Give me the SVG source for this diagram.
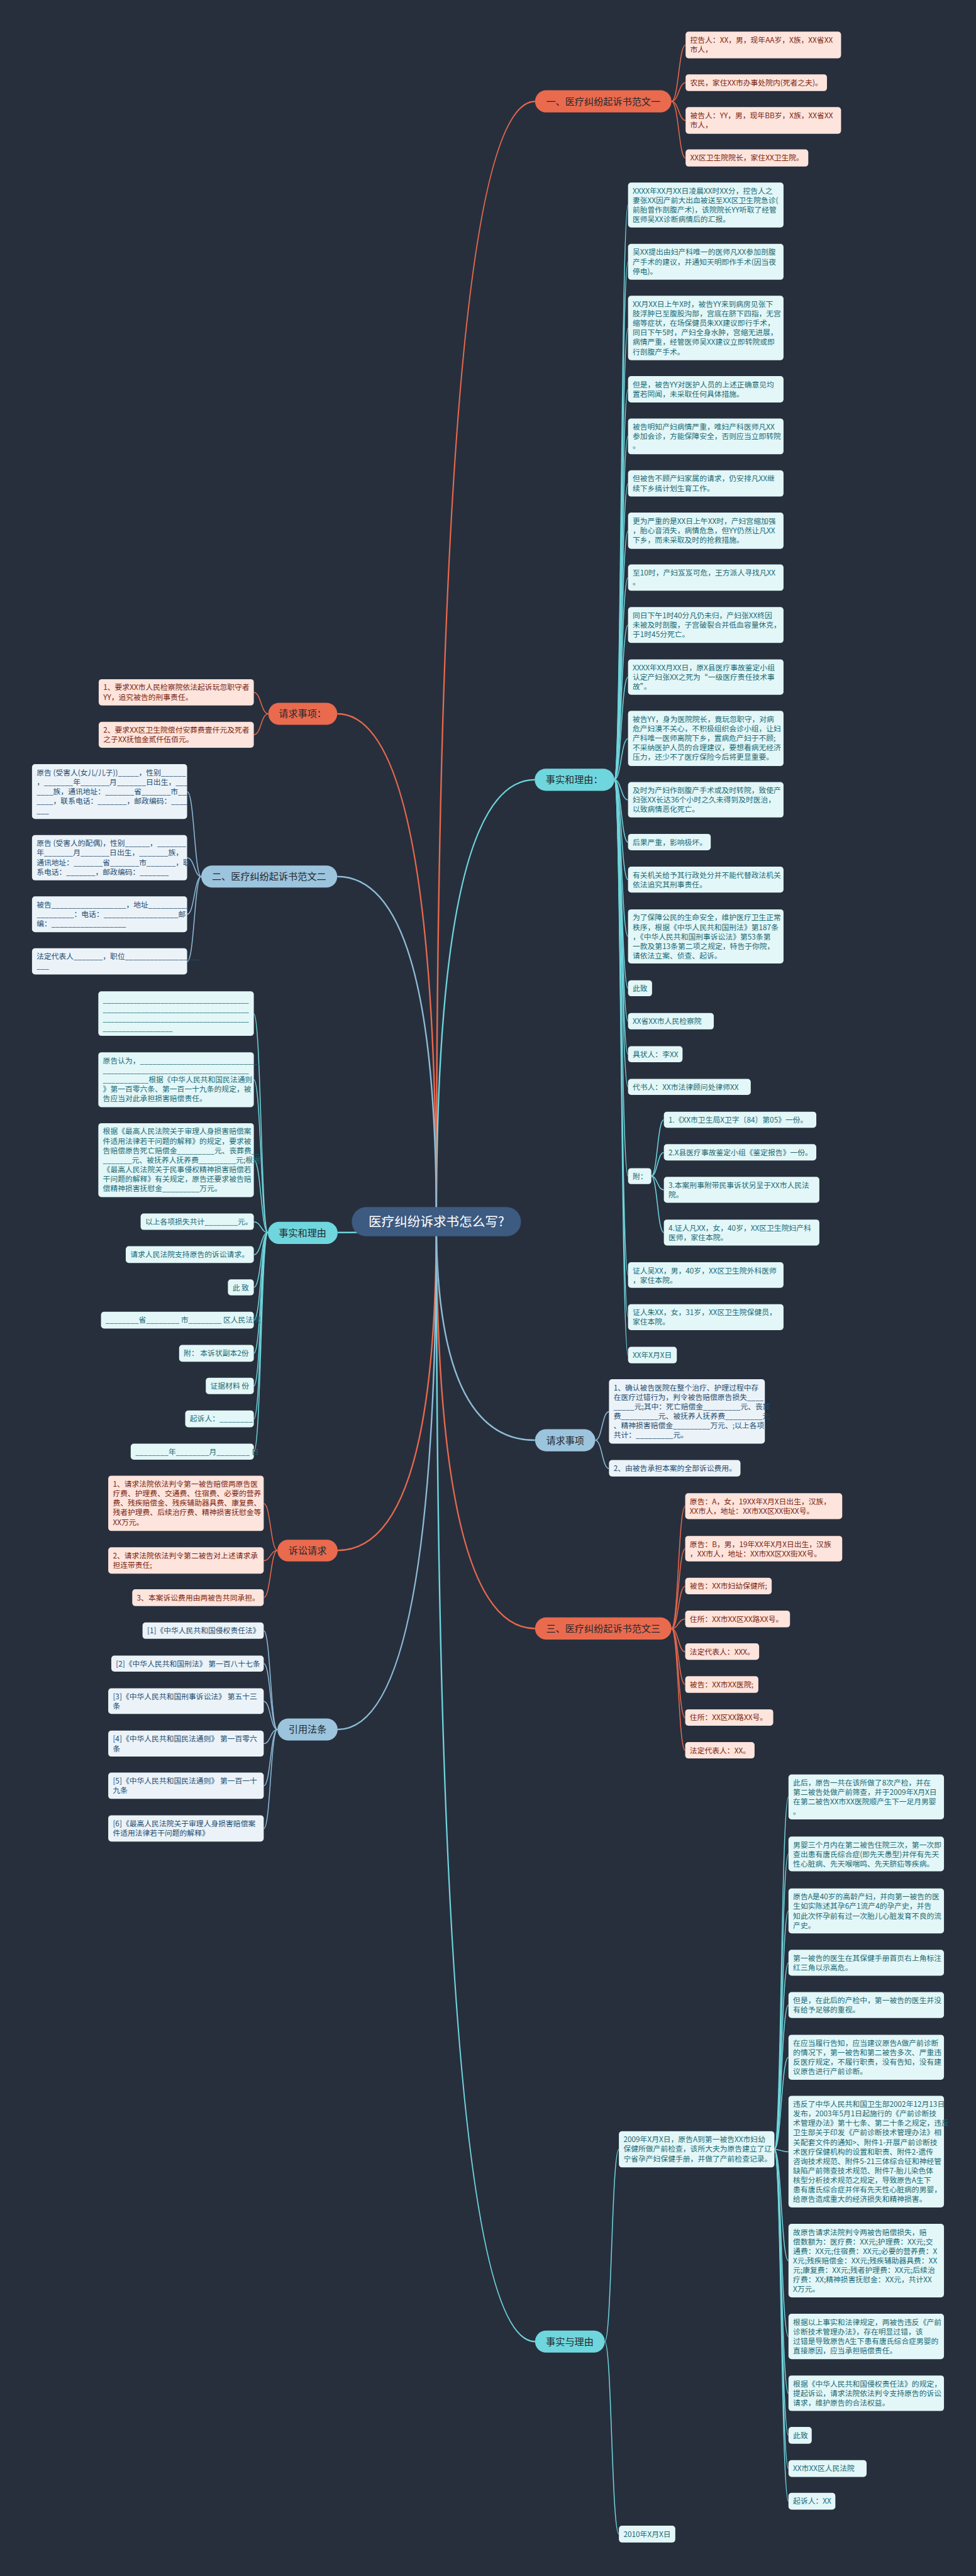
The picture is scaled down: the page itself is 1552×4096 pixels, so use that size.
<svg xmlns="http://www.w3.org/2000/svg" width="1552" height="4096" viewBox="0 0 1552 4096">
<style>
text{font-family:"Noto Sans CJK SC","Noto Sans",sans-serif;font-size:19.5px}
.lp{fill:#fde4dc}.lc{fill:#e3f7f8}.lb{fill:#ebf3f9}
.tp{fill:#7a2411}.tc{fill:#1b6a74}.tb{fill:#1f4d6f}
.cn path{fill:none;stroke-width:2.5}
.cn .main{stroke-width:4}
.cc{stroke:#e8694d}.cy{stroke:#6fd5dc}.cb{stroke:#8fbcd8}
.bc{fill:#ea6a4e}.by{fill:#6fd6dd}.bb{fill:#9cc4dd}
.bt{font-size:25px;fill:#24282e;text-anchor:middle}
.rt{font-size:34px;fill:#ffffff;text-anchor:middle}
</style>
<rect width="1552" height="4096" fill="#272f3d"/>
<g transform="scale(0.606)">
<g id="connectors" class="cn">
<path class="cc main" d="M1145,3205 Q1145,266 1404,266"/>
<path class="cy main" d="M1145,3205 Q1145,2046 1403,2046"/>
<path class="cb main" d="M1145,3205 Q1145,3779 1404,3779"/>
<path class="cc main" d="M1145,3205 Q1145,4273 1404,4273"/>
<path class="cy main" d="M1145,3205 Q1145,6144 1404,6144"/>
<path class="cc main" d="M1145,3205 Q1145,1873 885,1873"/>
<path class="cb main" d="M1145,3205 Q1145,2300 885,2300"/>
<path class="cy main" d="M1145,3205 Q1145,3234 886,3234"/>
<path class="cc main" d="M1145,3205 Q1145,4068 886,4068"/>
<path class="cb main" d="M1145,3205 Q1145,4538 886,4538"/>
<path class="cc" d="M1762,266 C1781,266 1781,118 1799,118"/>
<path class="cc" d="M1762,266 C1781,266 1781,217 1799,217"/>
<path class="cc" d="M1762,266 C1781,266 1781,316 1799,316"/>
<path class="cc" d="M1762,266 C1781,266 1781,415 1799,415"/>
<path class="cy" d="M1612,2046 C1630,2046 1630,538 1648,538"/>
<path class="cy" d="M1612,2046 C1630,2046 1630,687 1648,687"/>
<path class="cy" d="M1612,2046 C1630,2046 1630,861 1648,861"/>
<path class="cy" d="M1612,2046 C1630,2046 1630,1022 1648,1022"/>
<path class="cy" d="M1612,2046 C1630,2046 1630,1145 1648,1145"/>
<path class="cy" d="M1612,2046 C1630,2046 1630,1269 1648,1269"/>
<path class="cy" d="M1612,2046 C1630,2046 1630,1393 1648,1393"/>
<path class="cy" d="M1612,2046 C1630,2046 1630,1516 1648,1516"/>
<path class="cy" d="M1612,2046 C1630,2046 1630,1640 1648,1640"/>
<path class="cy" d="M1612,2046 C1630,2046 1630,1777 1648,1777"/>
<path class="cy" d="M1612,2046 C1630,2046 1630,1938 1648,1938"/>
<path class="cy" d="M1612,2046 C1630,2046 1630,2099 1648,2099"/>
<path class="cy" d="M1612,2046 C1630,2046 1630,2210 1648,2210"/>
<path class="cy" d="M1612,2046 C1630,2046 1630,2308 1648,2308"/>
<path class="cy" d="M1612,2046 C1630,2046 1630,2457 1648,2457"/>
<path class="cy" d="M1612,2046 C1630,2046 1630,2593 1648,2593"/>
<path class="cy" d="M1612,2046 C1630,2046 1630,2680 1648,2680"/>
<path class="cy" d="M1612,2046 C1630,2046 1630,2766 1648,2766"/>
<path class="cy" d="M1612,2046 C1630,2046 1630,2852 1648,2852"/>
<path class="cy" d="M1612,2046 C1630,2046 1630,3086 1648,3086"/>
<path class="cy" d="M1612,2046 C1630,2046 1630,3346 1648,3346"/>
<path class="cy" d="M1612,2046 C1630,2046 1630,3456 1648,3456"/>
<path class="cy" d="M1612,2046 C1630,2046 1630,3556 1648,3556"/>
<path class="cy" d="M1709,3086 C1725,3086 1725,2938 1742,2938"/>
<path class="cy" d="M1709,3086 C1725,3086 1725,3024 1742,3024"/>
<path class="cy" d="M1709,3086 C1725,3086 1725,3122 1742,3122"/>
<path class="cy" d="M1709,3086 C1725,3086 1725,3234 1742,3234"/>
<path class="cb" d="M1562,3779 C1580,3779 1580,3704 1598,3704"/>
<path class="cb" d="M1562,3779 C1580,3779 1580,3853 1598,3853"/>
<path class="cc" d="M1762,4273 C1780,4273 1780,3952 1798,3952"/>
<path class="cc" d="M1762,4273 C1780,4273 1780,4064 1798,4064"/>
<path class="cc" d="M1762,4273 C1780,4273 1780,4162 1798,4162"/>
<path class="cc" d="M1762,4273 C1780,4273 1780,4248 1798,4248"/>
<path class="cc" d="M1762,4273 C1780,4273 1780,4334 1798,4334"/>
<path class="cc" d="M1762,4273 C1780,4273 1780,4420 1798,4420"/>
<path class="cc" d="M1762,4273 C1780,4273 1780,4507 1798,4507"/>
<path class="cc" d="M1762,4273 C1780,4273 1780,4593 1798,4593"/>
<path class="cy" d="M1587,6144 C1605,6144 1605,5640 1624,5640"/>
<path class="cy" d="M1587,6144 C1605,6144 1605,6649 1624,6649"/>
<path class="cy" d="M2032,5640 C2050,5640 2050,4715 2069,4715"/>
<path class="cy" d="M2032,5640 C2050,5640 2050,4865 2069,4865"/>
<path class="cy" d="M2032,5640 C2050,5640 2050,5014 2069,5014"/>
<path class="cy" d="M2032,5640 C2050,5640 2050,5150 2069,5150"/>
<path class="cy" d="M2032,5640 C2050,5640 2050,5261 2069,5261"/>
<path class="cy" d="M2032,5640 C2050,5640 2050,5398 2069,5398"/>
<path class="cy" d="M2032,5640 C2050,5640 2050,5646 2069,5646"/>
<path class="cy" d="M2032,5640 C2050,5640 2050,5932 2069,5932"/>
<path class="cy" d="M2032,5640 C2050,5640 2050,6131 2069,6131"/>
<path class="cy" d="M2032,5640 C2050,5640 2050,6280 2069,6280"/>
<path class="cy" d="M2032,5640 C2050,5640 2050,6390 2069,6390"/>
<path class="cy" d="M2032,5640 C2050,5640 2050,6477 2069,6477"/>
<path class="cy" d="M2032,5640 C2050,5640 2050,6563 2069,6563"/>
<path class="cc" d="M704,1873 C685,1873 685,1817 666,1817"/>
<path class="cc" d="M704,1873 C685,1873 685,1928 666,1928"/>
<path class="cb" d="M528,2300 C510,2300 510,2077 491,2077"/>
<path class="cb" d="M528,2300 C510,2300 510,2251 491,2251"/>
<path class="cb" d="M528,2300 C510,2300 510,2399 491,2399"/>
<path class="cb" d="M528,2300 C510,2300 510,2523 491,2523"/>
<path class="cy" d="M703,3234 C685,3234 685,2660 666,2660"/>
<path class="cy" d="M703,3234 C685,3234 685,2833 666,2833"/>
<path class="cy" d="M703,3234 C685,3234 685,3044 666,3044"/>
<path class="cy" d="M703,3234 C685,3234 685,3206 666,3206"/>
<path class="cy" d="M703,3234 C685,3234 685,3292 666,3292"/>
<path class="cy" d="M703,3234 C685,3234 685,3378 666,3378"/>
<path class="cy" d="M703,3234 C685,3234 685,3464 666,3464"/>
<path class="cy" d="M703,3234 C685,3234 685,3551 666,3551"/>
<path class="cy" d="M703,3234 C685,3234 685,3637 666,3637"/>
<path class="cy" d="M703,3234 C685,3234 685,3723 666,3723"/>
<path class="cy" d="M703,3234 C685,3234 685,3809 666,3809"/>
<path class="cc" d="M728,4068 C710,4068 710,3945 692,3945"/>
<path class="cc" d="M728,4068 C710,4068 710,4095 692,4095"/>
<path class="cc" d="M728,4068 C710,4068 710,4192 692,4192"/>
<path class="cb" d="M728,4538 C710,4538 710,4279 692,4279"/>
<path class="cb" d="M728,4538 C710,4538 710,4365 692,4365"/>
<path class="cb" d="M728,4538 C710,4538 710,4464 692,4464"/>
<path class="cb" d="M728,4538 C710,4538 710,4575 692,4575"/>
<path class="cb" d="M728,4538 C710,4538 710,4686 692,4686"/>
<path class="cb" d="M728,4538 C710,4538 710,4798 692,4798"/>
</g>

<g id="root"><rect x="923" y="3167" width="444" height="77" rx="38" fill="#3d5a80"/><text class="rt" x="1145" y="3217">医疗纠纷诉求书怎么写?</text></g>

<g id="b1"><rect class="bc" x="1404" y="237" width="358" height="58" rx="29"/><text class="bt" x="1583" y="275">一、医疗纠纷起诉书范文一</text></g>
<g id="b2"><rect class="by" x="1403" y="2017" width="209" height="58" rx="29"/><text class="bt" x="1507" y="2055">事实和理由：</text></g>
<g id="b3"><rect class="bb" x="1404" y="3750" width="158" height="58" rx="29"/><text class="bt" x="1483" y="3788">请求事项</text></g>
<g id="b4"><rect class="bc" x="1404" y="4244" width="358" height="58" rx="29"/><text class="bt" x="1583" y="4282">三、医疗纠纷起诉书范文三</text></g>
<g id="b5"><rect class="by" x="1404" y="6115" width="183" height="58" rx="29"/><text class="bt" x="1495" y="6153">事实与理由</text></g>
<g id="b6"><rect class="bc" x="704" y="1844" width="181" height="58" rx="29"/><text class="bt" x="794" y="1882">请求事项：</text></g>
<g id="b7"><rect class="bb" x="528" y="2271" width="357" height="58" rx="29"/><text class="bt" x="706" y="2309">二、医疗纠纷起诉书范文二</text></g>
<g id="b8"><rect class="by" x="703" y="3206" width="183" height="58" rx="29"/><text class="bt" x="794" y="3244">事实和理由</text></g>
<g id="b9"><rect class="bc" x="728" y="4040" width="158" height="57" rx="28"/><text class="bt" x="807" y="4077">诉讼请求</text></g>
<g id="b10"><rect class="bb" x="728" y="4509" width="158" height="58" rx="29"/><text class="bt" x="807" y="4547">引用法条</text></g>

<g id="p1"><rect class="lp" x="1799" y="83" width="408" height="70" rx="8"/><text class="tp"><tspan x="1811" y="112">控告人：XX，男，现年AA岁，X族，XX省XX</tspan><tspan x="1811" y="137">市人，</tspan></text></g>
<g id="p2"><rect class="lp" x="1799" y="195" width="371" height="44" rx="8"/><text class="tp" x="1811" y="224">农民，家住XX市办事处院内(死者之夫)。</text></g>
<g id="p3"><rect class="lp" x="1799" y="281" width="408" height="70" rx="8"/><text class="tp"><tspan x="1811" y="310">被告人：YY，男，现年BB岁，X族，XX省XX</tspan><tspan x="1811" y="335">市人，</tspan></text></g>
<g id="p4"><rect class="lp" x="1799" y="392" width="322" height="45" rx="8"/><text class="tp" x="1811" y="421">XX区卫生院院长，家住XX卫生院。</text></g>

<g id="l1"><rect class="lc" x="1648" y="479" width="408" height="118" rx="8"/><text class="tc"><tspan x="1660" y="508">XXXX年XX月XX日凌晨XX时XX分，控告人之</tspan><tspan x="1660" y="533">妻张XX因产前大出血被送至XX区卫生院急诊(</tspan><tspan x="1660" y="558">前胎曾作剖腹产术)，该院院长YY听取了经管</tspan><tspan x="1660" y="583">医师吴XX诊断病情后的汇报。</tspan></text></g>
<g id="l2"><rect class="lc" x="1648" y="640" width="408" height="94" rx="8"/><text class="tc"><tspan x="1660" y="669">吴XX提出由妇产科唯一的医师凡XX参加剖腹</tspan><tspan x="1660" y="694">产手术的建议，并通知天明即作手术(因当夜</tspan><tspan x="1660" y="719">停电)。</tspan></text></g>
<g id="l3"><rect class="lc" x="1648" y="776" width="408" height="169" rx="8"/><text class="tc"><tspan x="1660" y="805">XX月XX日上午X时，被告YY来到病房见张下</tspan><tspan x="1660" y="830">肢浮肿已至腹股沟部，宫底在脐下四指，无宫</tspan><tspan x="1660" y="855">缩等症状，在场保健员朱XX建议即行手术，</tspan><tspan x="1660" y="880">同日下午5时，产妇全身水肿，宫缩无进展，</tspan><tspan x="1660" y="905">病情严重，经管医师吴XX建议立即转院或即</tspan><tspan x="1660" y="930">行剖腹产手术。</tspan></text></g>
<g id="l4"><rect class="lc" x="1648" y="987" width="408" height="69" rx="8"/><text class="tc"><tspan x="1660" y="1016">但是，被告YY对医护人员的上述正确意见均</tspan><tspan x="1660" y="1041">置若罔闻，未采取任何具体措施。</tspan></text></g>
<g id="l5"><rect class="lc" x="1648" y="1098" width="408" height="94" rx="8"/><text class="tc"><tspan x="1660" y="1127">被告明知产妇病情严重，唯妇产科医师凡XX</tspan><tspan x="1660" y="1152">参加会诊，方能保障安全，否则应当立即转院</tspan><tspan x="1660" y="1177">。</tspan></text></g>
<g id="l6"><rect class="lc" x="1648" y="1234" width="408" height="69" rx="8"/><text class="tc"><tspan x="1660" y="1263">但被告不顾产妇家属的请求，仍安排凡XX继</tspan><tspan x="1660" y="1288">续下乡搞计划生育工作。</tspan></text></g>
<g id="l7"><rect class="lc" x="1648" y="1345" width="408" height="95" rx="8"/><text class="tc"><tspan x="1660" y="1374">更为严重的是XX日上午XX时，产妇宫缩加强</tspan><tspan x="1660" y="1399">，胎心音消失，病情危急，但YY仍然让凡XX</tspan><tspan x="1660" y="1424">下乡，而未采取及时的抢救措施。</tspan></text></g>
<g id="l8"><rect class="lc" x="1648" y="1481" width="408" height="69" rx="8"/><text class="tc"><tspan x="1660" y="1510">至10时，产妇岌岌可危，王方派人寻找凡XX</tspan><tspan x="1660" y="1535">。</tspan></text></g>
<g id="l9"><rect class="lc" x="1648" y="1593" width="408" height="94" rx="8"/><text class="tc"><tspan x="1660" y="1622">同日下午1时40分凡仍未归，产妇张XX终因</tspan><tspan x="1660" y="1647">未被及时剖腹，子宫破裂合并低血容量休克，</tspan><tspan x="1660" y="1672">于1时45分死亡。</tspan></text></g>
<g id="l10"><rect class="lc" x="1648" y="1730" width="408" height="93" rx="8"/><text class="tc"><tspan x="1660" y="1759">XXXX年XX月XX日，原X县医疗事故鉴定小组</tspan><tspan x="1660" y="1784">认定产妇张XX之死为“一级医疗责任技术事</tspan><tspan x="1660" y="1809">故”。</tspan></text></g>
<g id="l11"><rect class="lc" x="1648" y="1865" width="408" height="145" rx="8"/><text class="tc"><tspan x="1660" y="1894">被告YY，身为医院院长，竟玩忽职守，对病</tspan><tspan x="1660" y="1919">危产妇漠不关心，不积极组织会诊小组，让妇</tspan><tspan x="1660" y="1944">产科唯一医师离院下乡，置病危产妇于不顾;</tspan><tspan x="1660" y="1969">不采纳医护人员的合理建议，要想看病无经济</tspan><tspan x="1660" y="1994">压力，还少不了医疗保险今后将更显重要。</tspan></text></g>
<g id="l12"><rect class="lc" x="1648" y="2052" width="408" height="93" rx="8"/><text class="tc"><tspan x="1660" y="2081">及时为产妇作剖腹产手术或及时转院，致使产</tspan><tspan x="1660" y="2106">妇张XX长达36个小时之久未得到及时医治，</tspan><tspan x="1660" y="2131">以致病情恶化死亡。</tspan></text></g>
<g id="l13"><rect class="lc" x="1648" y="2188" width="217" height="43" rx="8"/><text class="tc" x="1660" y="2217">后果严重，影响极坏。</text></g>
<g id="l14"><rect class="lc" x="1648" y="2274" width="408" height="68" rx="8"/><text class="tc"><tspan x="1660" y="2303">有关机关给予其行政处分并不能代替政法机关</tspan><tspan x="1660" y="2328">依法追究其刑事责任。</tspan></text></g>
<g id="l15"><rect class="lc" x="1648" y="2386" width="408" height="142" rx="8"/><text class="tc"><tspan x="1660" y="2415">为了保障公民的生命安全，维护医疗卫生正常</tspan><tspan x="1660" y="2440">秩序，根据《中华人民共和国刑法》第187条</tspan><tspan x="1660" y="2465">，《中华人民共和国刑事诉讼法》第53条第</tspan><tspan x="1660" y="2490">一款及第13条第二项之规定，特告于你院，</tspan><tspan x="1660" y="2515">请依法立案、侦查、起诉。</tspan></text></g>
<g id="l16"><rect class="lc" x="1648" y="2572" width="63" height="42" rx="8"/><text class="tc" x="1660" y="2601">此致</text></g>
<g id="l17"><rect class="lc" x="1648" y="2658" width="225" height="43" rx="8"/><text class="tc" x="1660" y="2687">XX省XX市人民检察院</text></g>
<g id="l18"><rect class="lc" x="1648" y="2745" width="143" height="42" rx="8"/><text class="tc" x="1660" y="2774">具状人：李XX</text></g>
<g id="l19"><rect class="lc" x="1648" y="2831" width="322" height="42" rx="8"/><text class="tc" x="1660" y="2860">代书人：XX市法律顾问处律师XX</text></g>
<g id="l20"><rect class="lc" x="1648" y="3065" width="61" height="42" rx="8"/><text class="tc" x="1660" y="3094">附：</text></g>
<g id="s1"><rect class="lc" x="1742" y="2917" width="400" height="42" rx="8"/><text class="tc" x="1754" y="2946">1.《XX市卫生局X卫字〔84〕第05》一份。</text></g>
<g id="s2"><rect class="lc" x="1742" y="3002" width="400" height="43" rx="8"/><text class="tc" x="1754" y="3031">2.X县医疗事故鉴定小组《鉴定报告》一份。</text></g>
<g id="s3"><rect class="lc" x="1742" y="3088" width="408" height="68" rx="8"/><text class="tc"><tspan x="1754" y="3117">3.本案刑事附带民事诉状另呈于XX市人民法</tspan><tspan x="1754" y="3142">院。</tspan></text></g>
<g id="s4"><rect class="lc" x="1742" y="3200" width="408" height="68" rx="8"/><text class="tc"><tspan x="1754" y="3229">4.证人凡XX，女，40岁，XX区卫生院妇产科</tspan><tspan x="1754" y="3254">医师，家住本院。</tspan></text></g>
<g id="l21"><rect class="lc" x="1648" y="3312" width="408" height="67" rx="8"/><text class="tc"><tspan x="1660" y="3341">证人吴XX，男，40岁，XX区卫生院外科医师</tspan><tspan x="1660" y="3366">，家住本院。</tspan></text></g>
<g id="l22"><rect class="lc" x="1648" y="3422" width="408" height="68" rx="8"/><text class="tc"><tspan x="1660" y="3451">证人朱XX，女，31岁，XX区卫生院保健员，</tspan><tspan x="1660" y="3476">家住本院。</tspan></text></g>
<g id="l23"><rect class="lc" x="1648" y="3534" width="128" height="43" rx="8"/><text class="tc" x="1660" y="3563">XX年X月X日</text></g>

<g id="r1"><rect class="lb" x="1598" y="3619" width="409" height="169" rx="8"/><text class="tb"><tspan x="1610" y="3648">1、确认被告医院在整个治疗、护理过程中存</tspan><tspan x="1610" y="3673">在医疗过错行为，判令被告赔偿原告损失____</tspan><tspan x="1610" y="3698">_____元;其中：死亡赔偿金_________元、丧葬</tspan><tspan x="1610" y="3723">费_________元、被抚养人抚养费_________元</tspan><tspan x="1610" y="3748">、精神损害赔偿金_________万元、;以上各项</tspan><tspan x="1610" y="3773">共计：_________元。</tspan></text></g>
<g id="r2"><rect class="lb" x="1598" y="3831" width="345" height="43" rx="8"/><text class="tb" x="1610" y="3860">2、由被告承担本案的全部诉讼费用。</text></g>

<g id="t1"><rect class="lp" x="1798" y="3918" width="412" height="68" rx="8"/><text class="tp"><tspan x="1810" y="3947">原告：A，女，19XX年X月X日出生，汉族，</tspan><tspan x="1810" y="3972">XX市人，地址：XX市XX区XX街XX号。</tspan></text></g>
<g id="t2"><rect class="lp" x="1798" y="4030" width="412" height="67" rx="8"/><text class="tp"><tspan x="1810" y="4059">原告：B，男，19年XX年X月X日出生，汉族</tspan><tspan x="1810" y="4084">，XX市人，地址：XX市XX区XX街XX号。</tspan></text></g>
<g id="t3"><rect class="lp" x="1798" y="4140" width="227" height="43" rx="8"/><text class="tp" x="1810" y="4169">被告：XX市妇幼保健所;</text></g>
<g id="t4"><rect class="lp" x="1798" y="4226" width="275" height="44" rx="8"/><text class="tp" x="1810" y="4255">住所：XX市XX区XX路XX号。</text></g>
<g id="t5"><rect class="lp" x="1798" y="4312" width="194" height="43" rx="8"/><text class="tp" x="1810" y="4341">法定代表人：XXX。</text></g>
<g id="t6"><rect class="lp" x="1798" y="4398" width="192" height="44" rx="8"/><text class="tp" x="1810" y="4427">被告：XX市XX医院;</text></g>
<g id="t7"><rect class="lp" x="1798" y="4485" width="231" height="43" rx="8"/><text class="tp" x="1810" y="4514">住所：XX区XX路XX号。</text></g>
<g id="t8"><rect class="lp" x="1798" y="4571" width="182" height="43" rx="8"/><text class="tp" x="1810" y="4600">法定代表人：XX。</text></g>

<g id="m1"><rect class="lc" x="1624" y="5592" width="408" height="95" rx="8"/><text class="tc"><tspan x="1636" y="5621">2009年X月X日，原告A到第一被告XX市妇幼</tspan><tspan x="1636" y="5646">保健所做产前检查，该所大夫为原告建立了辽</tspan><tspan x="1636" y="5671">宁省孕产妇保健手册，并做了产前检查记录。</tspan></text></g>
<g id="m2"><rect class="lc" x="1624" y="6627" width="148" height="44" rx="8"/><text class="tc" x="1636" y="6656">2010年X月X日</text></g>
<g id="u1"><rect class="lc" x="2069" y="4656" width="408" height="118" rx="8"/><text class="tc"><tspan x="2081" y="4685">此后，原告一共在该所做了8次产检，并在</tspan><tspan x="2081" y="4710">第二被告处做产前筛查，并于2009年X月X日</tspan><tspan x="2081" y="4735">在第二被告XX市XX医院顺产生下一足月男婴</tspan><tspan x="2081" y="4760">。</tspan></text></g>
<g id="u2"><rect class="lc" x="2069" y="4819" width="408" height="91" rx="8"/><text class="tc"><tspan x="2081" y="4848">男婴三个月内在第二被告住院三次，第一次即</tspan><tspan x="2081" y="4873">查出患有唐氏综合症(即先天愚型)并伴有先天</tspan><tspan x="2081" y="4898">性心脏病、先天喉喘鸣、先天脐疝等疾病。</tspan></text></g>
<g id="u3"><rect class="lc" x="2069" y="4955" width="408" height="118" rx="8"/><text class="tc"><tspan x="2081" y="4984">原告A是40岁的高龄产妇，并向第一被告的医</tspan><tspan x="2081" y="5009">生如实陈述其孕6产1流产4的孕产史，并告</tspan><tspan x="2081" y="5034">知此次怀孕前有过一次胎儿心脏发育不良的流</tspan><tspan x="2081" y="5059">产史。</tspan></text></g>
<g id="u4"><rect class="lc" x="2069" y="5116" width="408" height="68" rx="8"/><text class="tc"><tspan x="2081" y="5145">第一被告的医生在其保健手册首页右上角标注</tspan><tspan x="2081" y="5170">红三角以示高危。</tspan></text></g>
<g id="u5"><rect class="lc" x="2069" y="5227" width="408" height="68" rx="8"/><text class="tc"><tspan x="2081" y="5256">但是，在此后的产检中，第一被告的医生并没</tspan><tspan x="2081" y="5281">有给予足够的重视。</tspan></text></g>
<g id="u6"><rect class="lc" x="2069" y="5339" width="408" height="118" rx="8"/><text class="tc"><tspan x="2081" y="5368">在应当履行告知，应当建议原告A做产前诊断</tspan><tspan x="2081" y="5393">的情况下，第一被告和第二被告多次、严重违</tspan><tspan x="2081" y="5418">反医疗规定，不履行职责，没有告知，没有建</tspan><tspan x="2081" y="5443">议原告进行产前诊断。</tspan></text></g>
<g id="u7"><rect class="lc" x="2069" y="5499" width="408" height="293" rx="8"/><text class="tc"><tspan x="2081" y="5528">违反了中华人民共和国卫生部2002年12月13日</tspan><tspan x="2081" y="5553">发布，2003年5月1日起施行的《产前诊断技</tspan><tspan x="2081" y="5578">术管理办法》第十七条、第二十条之规定，违反</tspan><tspan x="2081" y="5603">卫生部关于印发《产前诊断技术管理办法》相</tspan><tspan x="2081" y="5628">关配套文件的通知&gt;、附件1-开展产前诊断技</tspan><tspan x="2081" y="5653">术医疗保健机构的设置和职责、附件2-遗传</tspan><tspan x="2081" y="5678">咨询技术规范、附件5-21三体综合征和神经管</tspan><tspan x="2081" y="5703">缺陷产前筛查技术规范、附件7-胎儿染色体</tspan><tspan x="2081" y="5728">核型分析技术规范之规定，导致原告A生下</tspan><tspan x="2081" y="5753">患有唐氏综合症并伴有先天性心脏病的男婴，</tspan><tspan x="2081" y="5778">给原告造成重大的经济损失和精神损害。</tspan></text></g>
<g id="u8"><rect class="lc" x="2069" y="5835" width="408" height="193" rx="8"/><text class="tc"><tspan x="2081" y="5864">故原告请求法院判令两被告赔偿损失，赔</tspan><tspan x="2081" y="5889">偿数额为：医疗费：XX元;护理费：XX元;交</tspan><tspan x="2081" y="5914">通费：XX元;住宿费：XX元;必要的营养费：X</tspan><tspan x="2081" y="5939">X元;残疾赔偿金：XX元;残疾辅助器具费：XX</tspan><tspan x="2081" y="5964">元;康复费：XX元;残者护理费：XX元;后续治</tspan><tspan x="2081" y="5989">疗费：XX;精神损害抚慰金：XX元，共计XX</tspan><tspan x="2081" y="6014">X万元。</tspan></text></g>
<g id="u9"><rect class="lc" x="2069" y="6071" width="408" height="119" rx="8"/><text class="tc"><tspan x="2081" y="6100">根据以上事实和法律规定，两被告违反《产前</tspan><tspan x="2081" y="6125">诊断技术管理办法》，存在明显过错，该</tspan><tspan x="2081" y="6150">过错是导致原告A生下患有唐氏综合症男婴的</tspan><tspan x="2081" y="6175">直接原因，应当承担赔偿责任。</tspan></text></g>
<g id="u10"><rect class="lc" x="2069" y="6233" width="408" height="93" rx="8"/><text class="tc"><tspan x="2081" y="6262">根据《中华人民共和国侵权责任法》的规定，</tspan><tspan x="2081" y="6287">提起诉讼，请求法院依法判令支持原告的诉讼</tspan><tspan x="2081" y="6312">请求，维护原告的合法权益。</tspan></text></g>
<g id="u11"><rect class="lc" x="2069" y="6368" width="61" height="44" rx="8"/><text class="tc" x="2081" y="6397">此致</text></g>
<g id="u12"><rect class="lc" x="2069" y="6455" width="205" height="44" rx="8"/><text class="tc" x="2081" y="6484">XX市XX区人民法院</text></g>
<g id="u13"><rect class="lc" x="2069" y="6541" width="123" height="44" rx="8"/><text class="tc" x="2081" y="6570">起诉人：XX</text></g>

<g id="q1"><rect class="lp" x="259" y="1782" width="407" height="69" rx="8"/><text class="tp"><tspan x="271" y="1811">1、要求XX市人民检察院依法起诉玩忽职守者</tspan><tspan x="271" y="1836">YY，追究被告的刑事责任。</tspan></text></g>
<g id="q2"><rect class="lp" x="259" y="1894" width="407" height="68" rx="8"/><text class="tp"><tspan x="271" y="1923">2、要求XX区卫生院偿付安葬费壹仟元及死者</tspan><tspan x="271" y="1948">之子XX抚恤金贰仟伍佰元。</tspan></text></g>

<g id="e1"><rect class="lb" x="84" y="2005" width="407" height="144" rx="8"/><text class="tb"><tspan x="96" y="2034">原告 (受害人(女儿/儿子))_____，性别______</tspan><tspan x="96" y="2059">，_______年_______月_______日出生，___</tspan><tspan x="96" y="2084">____族，通讯地址：_______省_______市___</tspan><tspan x="96" y="2109">____，联系电话：_______，邮政编码：____</tspan><tspan x="96" y="2134">___</tspan></text></g>
<g id="e2"><rect class="lb" x="84" y="2191" width="407" height="119" rx="8"/><text class="tb"><tspan x="96" y="2220">原告 (受害人的配偶)，性别______，_______</tspan><tspan x="96" y="2245">年_______月_______日出生，_______族，</tspan><tspan x="96" y="2270">通讯地址：_______省_______市_______，联</tspan><tspan x="96" y="2295">系电话：_______，邮政编码：_______</tspan></text></g>
<g id="e3"><rect class="lb" x="84" y="2352" width="407" height="94" rx="8"/><text class="tb"><tspan x="96" y="2381">被告__________________，地址__________</tspan><tspan x="96" y="2406">_________：电话：__________________邮</tspan><tspan x="96" y="2431">编：__________________</tspan></text></g>
<g id="e4"><rect class="lb" x="84" y="2488" width="407" height="69" rx="8"/><text class="tb"><tspan x="96" y="2517">法定代表人_______，职位__________________</tspan><tspan x="96" y="2542">___</tspan></text></g>

<g id="f1"><rect class="lc" x="258" y="2601" width="408" height="117" rx="8"/><text class="tc" x="270" y="2630" textLength="383" lengthAdjust="spacingAndGlyphs">______________________________________</text><text class="tc" x="270" y="2655" textLength="383" lengthAdjust="spacingAndGlyphs">______________________________________</text><text class="tc" x="270" y="2680" textLength="383" lengthAdjust="spacingAndGlyphs">______________________________________</text><text class="tc" x="270" y="2705" textLength="183" lengthAdjust="spacingAndGlyphs">__________________</text></g>
<g id="f2"><rect class="lc" x="258" y="2761" width="408" height="144" rx="8"/><text class="tc"><tspan x="270" y="2790">原告认为，_____________________________</tspan><tspan x="270" y="2840">___________根据《中华人民共和国民法通则</tspan><tspan x="270" y="2865">》第一百零六条、第一百一十九条的规定，被</tspan><tspan x="270" y="2890">告应当对此承担损害赔偿责任。</tspan></text><text class="tc" x="270" y="2815" textLength="383" lengthAdjust="spacingAndGlyphs">______________________________________</text></g>
<g id="f3"><rect class="lc" x="258" y="2947" width="408" height="194" rx="8"/><text class="tc"><tspan x="270" y="2976">根据《最高人民法院关于审理人身损害赔偿案</tspan><tspan x="270" y="3001">件适用法律若干问题的解释》的规定，要求被</tspan><tspan x="270" y="3026">告赔偿原告死亡赔偿金_________元、丧葬费__</tspan><tspan x="270" y="3051">_______元、被抚养人抚养费_________元;根据</tspan><tspan x="270" y="3076">《最高人民法院关于民事侵权精神损害赔偿若</tspan><tspan x="270" y="3101">干问题的解释》有关规定，原告还要求被告赔</tspan><tspan x="270" y="3126">偿精神损害抚慰金_________万元。</tspan></text></g>
<g id="f4"><rect class="lc" x="369" y="3184" width="297" height="43" rx="8"/><text class="tc" x="381" y="3213">以上各项损失共计________元。</text></g>
<g id="f5"><rect class="lc" x="330" y="3270" width="336" height="44" rx="8"/><text class="tc" x="342" y="3299">请求人民法院支持原告的诉讼请求。</text></g>
<g id="f6"><rect class="lc" x="598" y="3357" width="68" height="42" rx="8"/><text class="tc" x="610" y="3386">此 致</text></g>
<g id="f7"><rect class="lc" x="265" y="3442" width="401" height="44" rx="8"/><text class="tc" x="277" y="3471">________省________ 市________ 区人民法院</text></g>
<g id="f8"><rect class="lc" x="470" y="3529" width="196" height="44" rx="8"/><text class="tc" x="482" y="3558">附： 本诉状副本2份</text></g>
<g id="f9"><rect class="lc" x="540" y="3615" width="126" height="43" rx="8"/><text class="tc" x="552" y="3644">证据材料 份</text></g>
<g id="f10"><rect class="lc" x="486" y="3701" width="180" height="44" rx="8"/><text class="tc" x="498" y="3730">起诉人：________</text></g>
<g id="f11"><rect class="lc" x="343" y="3788" width="323" height="42" rx="8"/><text class="tc" x="355" y="3817">________年________月________ 日</text></g>

<g id="v1"><rect class="lp" x="284" y="3872" width="408" height="145" rx="8"/><text class="tp"><tspan x="296" y="3901">1、请求法院依法判令第一被告赔偿两原告医</tspan><tspan x="296" y="3926">疗费、护理费、交通费、住宿费、必要的营养</tspan><tspan x="296" y="3951">费、残疾赔偿金、残疾辅助器具费、康复费、</tspan><tspan x="296" y="3976">残者护理费、后续治疗费、精神损害抚慰金等</tspan><tspan x="296" y="4001">XX万元。</tspan></text></g>
<g id="v2"><rect class="lp" x="284" y="4060" width="408" height="69" rx="8"/><text class="tp"><tspan x="296" y="4089">2、请求法院依法判令第二被告对上述请求承</tspan><tspan x="296" y="4114">担连带责任;</tspan></text></g>
<g id="v3"><rect class="lp" x="347" y="4170" width="345" height="44" rx="8"/><text class="tp" x="359" y="4199">3、本案诉讼费用由两被告共同承担。</text></g>

<g id="w1"><rect class="lb" x="374" y="4257" width="318" height="43" rx="8"/><text class="tb" x="386" y="4286">[1]《中华人民共和国侵权责任法》</text></g>
<g id="w2"><rect class="lb" x="292" y="4344" width="400" height="42" rx="8"/><text class="tb" x="304" y="4373">[2]《中华人民共和国刑法》 第一百八十七条</text></g>
<g id="w3"><rect class="lb" x="284" y="4430" width="408" height="67" rx="8"/><text class="tb"><tspan x="296" y="4459">[3]《中华人民共和国刑事诉讼法》 第五十三</tspan><tspan x="296" y="4484">条</tspan></text></g>
<g id="w4"><rect class="lb" x="284" y="4541" width="408" height="68" rx="8"/><text class="tb"><tspan x="296" y="4570">[4]《中华人民共和国民法通则》 第一百零六</tspan><tspan x="296" y="4595">条</tspan></text></g>
<g id="w5"><rect class="lb" x="284" y="4651" width="408" height="69" rx="8"/><text class="tb"><tspan x="296" y="4680">[5]《中华人民共和国民法通则》 第一百一十</tspan><tspan x="296" y="4705">九条</tspan></text></g>
<g id="w6"><rect class="lb" x="284" y="4763" width="408" height="69" rx="8"/><text class="tb"><tspan x="296" y="4792">[6]《最高人民法院关于审理人身损害赔偿案</tspan><tspan x="296" y="4817">件适用法律若干问题的解释》</tspan></text></g>
</g>
</svg>
